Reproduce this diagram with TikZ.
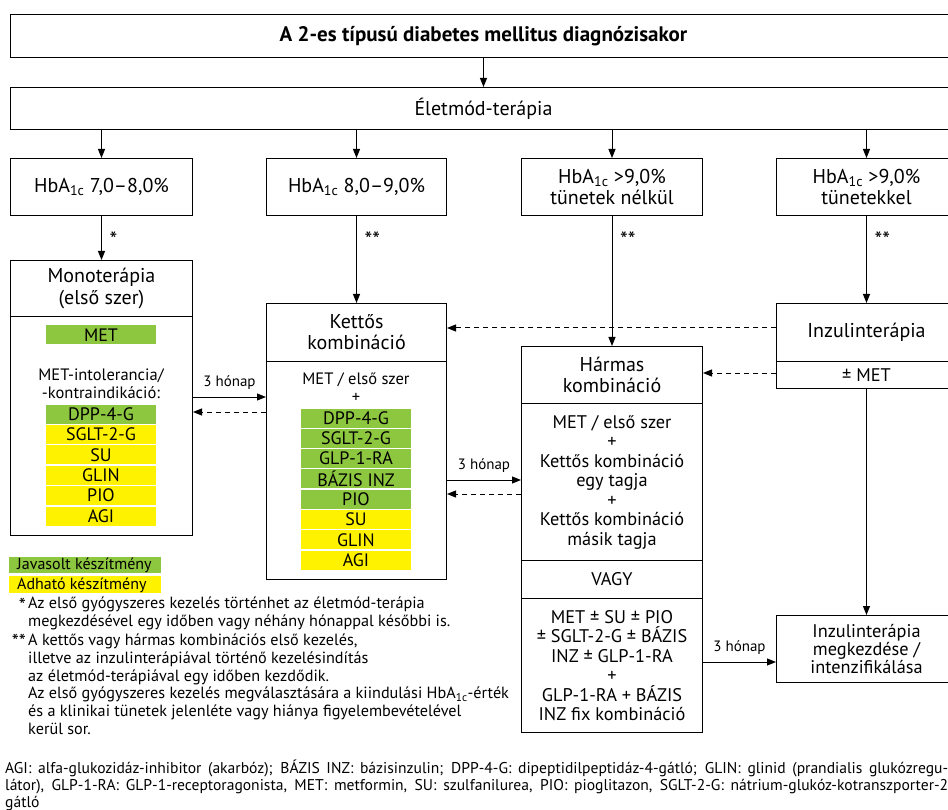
\documentclass[tikz,border=0pt]{standalone}
\usepackage{fontspec}
\setmainfont{PT Sans}
\usetikzlibrary{arrows.meta,positioning,calc}
\definecolor{javgreen}{RGB}{141,198,63}
\definecolor{adhyellow}{RGB}{255,242,0}
\newcommand{\hba}{HbA\textsubscript{1c}}
\newcommand{\headfont}{\fontsize{20}{21}\selectfont}
\newcommand{\boxfont}{\fontsize{18.3}{19.5}\selectfont}
\newcommand{\listfont}{\fontsize{16.5}{18}\selectfont}
\newcommand{\barfont}{\fontsize{18}{18}\selectfont}
\newcommand{\notefont}{\fontsize{16.2}{17.7}\selectfont}
\newcommand{\monthfont}{\fontsize{15}{16}\selectfont}
\newcommand{\abbrline}[1]{\makebox[943pt][s]{#1}}

\begin{document}
\begin{tikzpicture}[x=1pt, y=-1pt,
    box/.style={draw, line width=1pt, align=center, inner sep=0pt, font=\boxfont, anchor=north west},
    headbox/.style={box, font=\headfont},
    bar/.style={minimum width=110pt, minimum height=19pt, inner sep=0pt, font=\barfont},
    arr/.style={-{Triangle[length=9pt, width=7pt]}, line width=1pt},
    dasharr/.style={arr, dash pattern=on 5pt off 4pt},
    month/.style={font=\monthfont, midway, above=4pt},
    starlab/.style={font=\fontsize{22}{22}\selectfont, anchor=west, inner sep=0pt}
]
\clip (0,0) rectangle (948,810);

% Top rows
\node[box, minimum width=946pt, minimum height=43pt, font=\fontsize{21}{21}\selectfont\bfseries] (diag) at (10,14) {A 2-es típusú diabetes mellitus diagnózisakor};
\node[headbox, minimum width=946pt, minimum height=42pt] (elet) at (10,87) {Életmód-terápia};
\draw[arr] (diag) -- (elet);

% HbA1c boxes
\node[headbox, minimum width=182pt, minimum height=57pt] (hb1) at (10,158) {\hba{} 7,0–8,0\%};
\node[headbox, minimum width=180pt, minimum height=57pt] (hb2) at (266,158) {\hba{} 8,0–9,0\%};
\node[headbox, minimum width=181pt, minimum height=57pt] (hb3) at (521,158) {\hba{} >9,0\%\\tünetek nélkül};
\node[headbox, minimum width=180pt, minimum height=57pt] (hb4) at (776,158) {\hba{} >9,0\%\\tünetekkel};
\foreach \b in {hb1,hb2,hb3,hb4}
  \draw[arr] (elet.south -| \b) -- (\b);

% Monoterapia
\node[headbox, minimum width=182pt, minimum height=56pt, font=\fontsize{20}{22}\selectfont] (mono) at (10,260) {Monoterápia\\(első szer)};
\node[box, minimum width=182pt, minimum height=219pt] (monobody) at (10,316) {};
\node[bar, fill=javgreen] (monomet) at (101,335) {MET};
\node[font=\listfont, align=center] (monotxt) at (101,384) {MET-intolerancia/\\-kontraindikáció:};
\foreach \lab/\col [count=\i] in {DPP-4-G/javgreen, SGLT-2-G/adhyellow, SU/adhyellow, GLIN/adhyellow, PIO/adhyellow, AGI/adhyellow}
  \node[bar, fill=\col] (mb\i) at (101,{414+20.4*(\i-1)}) {\lab};
\draw[arr] (hb1) -- (mono);
\node[starlab] (star1) at ($(hb1.south)+(8,24)$) {*};

% Kettos kombinacio
\node[headbox, minimum width=180pt, minimum height=58pt] (kett) at (266,303) {Kettős\\kombináció};
\node[box, minimum width=180pt, minimum height=218pt] (kettbody) at (266,361) {};
\node[font=\listfont, align=center] (ketttxt) at (356,388) {MET / első szer\\+};
\foreach \lab/\col [count=\i] in {DPP-4-G/javgreen, SGLT-2-G/javgreen, GLP-1-RA/javgreen, BÁZIS INZ/javgreen, PIO/javgreen, SU/adhyellow, GLIN/adhyellow, AGI/adhyellow}
  \node[bar, fill=\col] (kb\i) at (356,{418+20.3*(\i-1)}) {\lab};
\draw[arr] (hb2) -- (kett);
\node[starlab] (star2) at ($(hb2.south)+(8,24)$) {**};

% Harmas kombinacio
\node[headbox, minimum width=181pt, minimum height=57pt] (harm) at (521,346) {Hármas\\kombináció};
\node[box, minimum width=181pt, minimum height=157pt] (harmbody) at (521,403) {MET / első szer\\+\\Kettős kombináció\\egy tagja\\+\\Kettős kombináció\\másik tagja};
\node[box, minimum width=181pt, minimum height=38pt] (vagy) at (521,560) {VAGY};
\node[box, minimum width=181pt, minimum height=134pt] (harmalt) at (521,598) {MET ± SU ± PIO\\± SGLT-2-G ± BÁZIS\\INZ ± GLP-1-RA\\+\\GLP-1-RA + BÁZIS\\INZ fix kombináció};
\draw[arr] (hb3) -- (harm);
\node[starlab] (star3) at ($(hb3.south)+(8,24)$) {**};

% Inzulinterapia
\node[headbox, minimum width=180pt, minimum height=58pt] (inz) at (776,303) {Inzulinterápia};
\node[box, minimum width=180pt, minimum height=27pt] (inzmet) at (776,361) {± MET};
\draw[arr] (hb4) -- (inz);
\node[starlab] (star4) at ($(hb4.south)+(8,24)$) {**};
\node[box, minimum width=180pt, minimum height=67pt, font=\fontsize{18.3}{18}\selectfont] (vege) at (776,615) {Inzulinterápia\\megkezdése /\\intenzifikálása};
\draw[arr] (inzmet) -- (vege);

% Connectors between stages
\coordinate (r1) at (0,397);
\coordinate (r2) at (0,412);
\coordinate (r3) at (0,480);
\coordinate (r4) at (0,494);
\coordinate (r5) at (0,328);
\coordinate (r6) at (0,373);
\coordinate (r7) at (0,662);
\draw[arr] (monobody.east |- r1) -- node[month] {3 hónap} (kettbody.west |- r1);
\draw[dasharr] (kettbody.west |- r2) -- (monobody.east |- r2);
\draw[arr] (kettbody.east |- r3) -- node[month] {3 hónap} (harmbody.west |- r3);
\draw[dasharr] (harmbody.west |- r4) -- (kettbody.east |- r4);
\draw[dasharr] (inz.west |- r5) -- (kett.east |- r5);
\draw[dasharr] (inzmet.west |- r6) -- (harm.east |- r6);
\draw[arr] (harmalt.east |- r7) -- node[month] {3 hónap} (vege.west |- r7);

% Legend
\node[fill=javgreen, minimum width=152pt, minimum height=16pt, inner sep=0pt, anchor=north west] (jav) at (9,557) {};
\node[anchor=west, inner sep=0pt, font=\fontsize{16}{17}\selectfont] (javtxt) at (17,565) {Javasolt készítmény};
\node[fill=adhyellow, minimum width=152pt, minimum height=17pt, inner sep=0pt, anchor=north west] (adh) at (9,576) {};
\node[anchor=west, inner sep=0pt, font=\fontsize{16}{17}\selectfont] (adhtxt) at (17,585) {Adható készítmény};

% Footnotes
\node[anchor=north east, inner sep=0pt, font=\fontsize{20}{20}\selectfont] (fn1s) at (26,598) {*};
\node[anchor=north west, inner sep=0pt, align=left, font=\notefont] (fn1) at (28,597) {Az első gyógyszeres kezelés történhet az életmód-terápia\\megkezdésével egy időben vagy néhány hónappal későbbi is.};
\node[anchor=north east, inner sep=0pt, font=\fontsize{20}{20}\selectfont] (fn2s) at (26,634) {**};
\node[anchor=north west, inner sep=0pt, align=left, font=\notefont] (fn2) at (28,634) {A kettős vagy hármas kombinációs első kezelés,\\illetve az inzulinterápiával történő kezelésindítás\\az életmód-terápiával egy időben kezdődik.\\Az első gyógyszeres kezelés megválasztására a kiindulási \hba-érték\\és a klinikai tünetek jelenléte vagy hiánya figyelembevételével\\kerül sor.};

% Abbreviations
\node[anchor=north west, inner sep=0pt, align=left, font=\fontsize{15.6}{16.8}\selectfont] (abbr) at (5,760) {\abbrline{AGI: alfa-glukozidáz-inhibitor (akarbóz); BÁZIS INZ: bázisinzulin; DPP-4-G: dipeptidilpeptidáz-4-gátló; GLIN: glinid (prandialis glukózregu-}\\\abbrline{látor), GLP-1-RA: GLP-1-receptoragonista, MET: metformin, SU: szulfanilurea, PIO: pioglitazon, SGLT-2-G: nátrium-glukóz-kotranszporter-2}\\gátló};

\end{tikzpicture}
\end{document}
